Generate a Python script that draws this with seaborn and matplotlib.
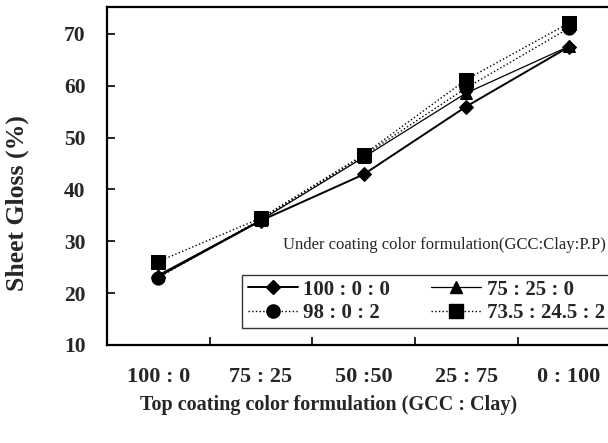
import matplotlib
matplotlib.use("Agg")
import matplotlib.pyplot as plt
import seaborn as sns
import pandas as pd
from matplotlib.lines import Line2D

categories = ["100 : 0", "75 : 25", "50 :50", "25 : 75", "0 : 100"]
series_names = ["100 : 0 : 0", "75 : 25 : 0", "98 : 0 : 2", "73.5 : 24.5 : 2"]
s_100_0_0 = [23.2, 34.0, 42.9, 56.0, 67.5]
s_75_25_0 = [23.5, 34.1, 46.2, 58.6, 67.6]
s_98_0_2 = [23.0, 34.3, 46.5, 59.6, 71.1]
s_735_245_2 = [26.1, 34.5, 46.7, 61.2, 72.1]
y_ticks = [10, 20, 30, 40, 50, 60, 70]

values = [s_100_0_0, s_75_25_0, s_98_0_2, s_735_245_2]
rows = []
for name, vals in zip(series_names, values):
    for i, (c, v) in enumerate(zip(categories, vals)):
        rows.append({"pos": i, "cat": c, "gloss": v, "series": name})
df = pd.DataFrame(rows)

sns.set_theme(style="white")
plt.rcParams["font.family"] = ["Liberation Serif", "DejaVu Serif"]

fig = plt.figure(figsize=(6.08, 4.43), dpi=100)
ax = fig.add_axes([107/608, 1 - 345/443, 1.02 - 107/608, 338/443])

markers = {series_names[0]: "D", series_names[1]: "^", series_names[2]: "o", series_names[3]: "s"}
styles = {series_names[0]: "-", series_names[1]: "-", series_names[2]: ":", series_names[3]: ":"}
lws = {series_names[0]: 1.4, series_names[1]: 0.9, series_names[2]: 1.0, series_names[3]: 1.0}
msizes = {series_names[0]: 7.5, series_names[1]: 8.5, series_names[2]: 9.5, series_names[3]: 9.5}

for name in series_names:
    sub = df[df["series"] == name]
    sns.lineplot(data=sub, x="pos", y="gloss", ax=ax, color="black",
                 marker=markers[name], markersize=msizes[name],
                 markeredgecolor="black", markerfacecolor="black",
                 linewidth=lws[name], legend=False, linestyle=styles[name])

ax.set_xlim(-0.5, 4.5)
ax.set_ylim(10, 75.2)
ax.set_yticks(y_ticks)
ax.set_yticklabels([str(t) for t in y_ticks], fontsize=15.5, fontweight="bold")
ax.set_xticks([0.5, 1.5, 2.5, 3.5])
ax.set_xticklabels([])
ax.tick_params(axis="both", direction="in", length=6, width=1.2, color="black", bottom=True, left=True)
ax.tick_params(axis="y", pad=15.5)
for i, c in enumerate(categories):
    ax.text(i, -0.095, c, transform=ax.get_xaxis_transform(), ha="center", va="center",
            fontsize=16, fontweight="bold")

for sp in ["left", "bottom", "top"]:
    ax.spines[sp].set_color("black")
    ax.spines[sp].set_linewidth(1.6)
ax.spines["right"].set_visible(False)

ax.set_xlabel("")
ax.set_ylabel("Sheet Gloss (%)", fontsize=18.5, fontweight="bold")
ax.yaxis.set_label_coords(-0.152, 0.42)
fig.text(0.54, 1 - 405/443, "Top coating color formulation (GCC : Clay)", ha="center", va="center",
         fontsize=14.5, fontweight="bold")

handles = []
for name in series_names:
    handles.append(Line2D([], [], color="black", marker=markers[name], markersize=msizes[name],
                          linewidth=lws[name], linestyle=styles[name]))
order = [0, 2, 1, 3]
leg = ax.legend([handles[i] for i in order], [series_names[i] for i in order], ncol=2,
                loc="lower right", bbox_to_anchor=(1.0 - 0.02, 0.05), bbox_transform=ax.transAxes,
                frameon=True, fancybox=False, edgecolor="black", handlelength=2.4,
                prop={"weight": "bold", "size": 15}, borderpad=0.25, labelspacing=0.15,
                columnspacing=2.0, handletextpad=0.25, borderaxespad=0)
leg.get_frame().set_linewidth(1.0)
ax.text(0.973, 0.295, "Under coating color formulation(GCC:Clay:P.P)", transform=ax.transAxes,
        ha="right", va="center", fontsize=12)

fig.savefig("out.png", dpi=100)
